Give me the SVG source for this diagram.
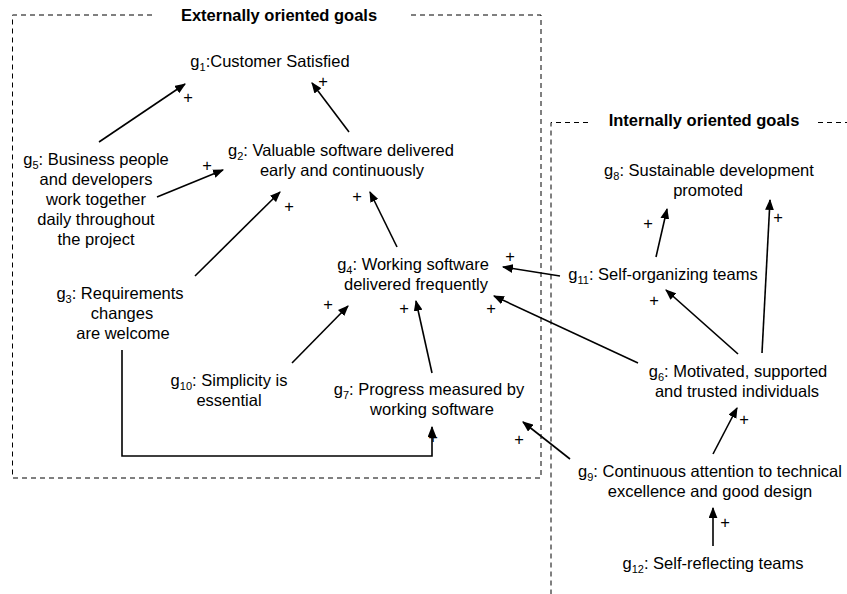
<svg xmlns="http://www.w3.org/2000/svg" width="847" height="594" viewBox="0 0 847 594">
<style>
text{font-family:"Liberation Sans",Arial,sans-serif;font-size:16.5px;fill:#000;text-anchor:middle}
.t{font-weight:bold}
.sub{font-size:11px}
.box{fill:none;stroke:#000;stroke-width:1;stroke-dasharray:5 4}
.c{fill:none;stroke:#000;stroke-width:1.6;marker-end:url(#ah)}
</style>
<defs>
<marker id="ah" viewBox="0 0 10 8" refX="9" refY="4" markerWidth="11" markerHeight="9" markerUnits="userSpaceOnUse" orient="auto">
<path d="M0,0 L10,4 L0,8 z" fill="#000"/>
</marker>
</defs>
<rect width="847" height="594" fill="#fff"/>
<g id="external-box">
<path class="box" d="M152,15 H12.5 V478 H541 V15 H408"/>
<text class="t" x="279" y="21">Externally oriented goals</text>
</g>
<g id="internal-box">
<path class="box" d="M588,122.5 H551 V594"/>
<path class="box" d="M818,122.5 H847"/>
<text class="t" x="704" y="126">Internally oriented goals</text>
</g>
<g id="g1"><text x="270" y="67">g<tspan class="sub" dy="4">1</tspan><tspan dy="-4">:Customer Satisfied</tspan></text></g>
<g id="g2">
<text x="341" y="156">g<tspan class="sub" dy="4">2</tspan><tspan dy="-4">: Valuable software delivered</tspan></text>
<text x="342" y="176">early and continuously</text>
</g>
<g id="g5">
<text x="96" y="165">g<tspan class="sub" dy="4">5</tspan><tspan dy="-4">: Business people</tspan></text>
<text x="96" y="185">and developers</text>
<text x="96" y="205">work together</text>
<text x="96" y="225">daily throughout</text>
<text x="96" y="245">the project</text>
</g>
<g id="g3">
<text x="120" y="299">g<tspan class="sub" dy="4">3</tspan><tspan dy="-4">: Requirements</tspan></text>
<text x="122" y="319">changes</text>
<text x="123" y="339">are welcome</text>
</g>
<g id="g4">
<text x="413" y="270">g<tspan class="sub" dy="4">4</tspan><tspan dy="-4">: Working software</tspan></text>
<text x="416" y="290">delivered frequently</text>
</g>
<g id="g10">
<text x="229" y="386">g<tspan class="sub" dy="4">10</tspan><tspan dy="-4">: Simplicity is</tspan></text>
<text x="229" y="406">essential</text>
</g>
<g id="g7">
<text x="429" y="395">g<tspan class="sub" dy="4">7</tspan><tspan dy="-4">: Progress measured by</tspan></text>
<text x="432" y="415">working software</text>
</g>
<g id="g8">
<text x="709" y="176">g<tspan class="sub" dy="4">8</tspan><tspan dy="-4">: Sustainable development</tspan></text>
<text x="708" y="196">promoted</text>
</g>
<g id="g11"><text x="663" y="280">g<tspan class="sub" dy="4">11</tspan><tspan dy="-4">: Self-organizing teams</tspan></text></g>
<g id="g6">
<text x="738" y="377">g<tspan class="sub" dy="4">6</tspan><tspan dy="-4">: Motivated, supported</tspan></text>
<text x="737" y="397">and trusted individuals</text>
</g>
<g id="g9">
<text x="710" y="477">g<tspan class="sub" dy="4">9</tspan><tspan dy="-4">: Continuous attention to technical</tspan></text>
<text x="710" y="497">excellence and good design</text>
</g>
<g id="g12"><text x="713" y="569">g<tspan class="sub" dy="4">12</tspan><tspan dy="-4">: Self-reflecting teams</tspan></text></g>
<g id="connectors">
<path class="c" d="M99,142 L185,84"/>
<path class="c" d="M349,132 L312,83"/>
<path class="c" d="M157,197 L223,170"/>
<path class="c" d="M195,276 L280,192"/>
<path class="c" d="M397,247 L370,192"/>
<path class="c" d="M292,363 L348,306"/>
<path class="c" d="M432,373 L416,301"/>
<path class="c" d="M560,276 L503,267"/>
<path class="c" d="M638,363 L494,296"/>
<path class="c" d="M738,354 L666,290"/>
<path class="c" d="M762,353 L770,200"/>
<path class="c" d="M656,257 L667,209"/>
<path class="c" d="M122,350 V456 H432 V427"/>
<path class="c" d="M570,459 L523,422"/>
<path class="c" d="M713,454 L737,408"/>
<path class="c" d="M713,546 V508"/>
<g id="signs">
<text x="188" y="103">+</text>
<text x="323" y="87">+</text>
<text x="207" y="171">+</text>
<text x="289" y="212">+</text>
<text x="357" y="202">+</text>
<text x="328" y="310">+</text>
<text x="404" y="314">+</text>
<text x="510" y="262">+</text>
<text x="491" y="314">+</text>
<text x="654" y="306">+</text>
<text x="778" y="223">+</text>
<text x="648" y="229">+</text>
<text x="433" y="443">+</text>
<text x="519" y="445">+</text>
<text x="744" y="425">+</text>
<text x="725" y="528">+</text>
</g>
</g>
</svg>
